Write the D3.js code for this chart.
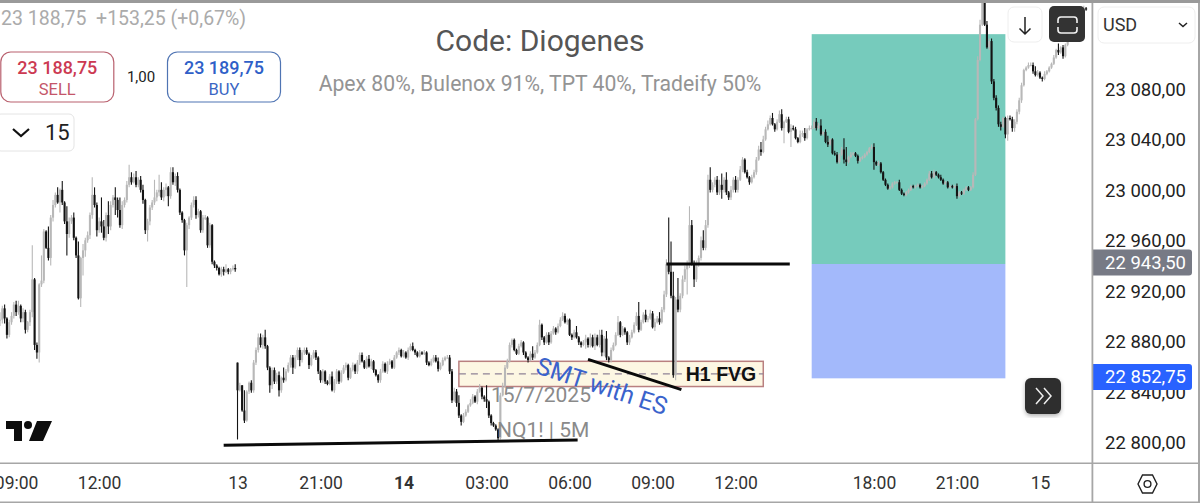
<!DOCTYPE html>
<html>
<head>
<meta charset="utf-8">
<title>Code: Diogenes</title>
<script src="https://cdn.jsdelivr.net/npm/d3@7"></script>
<style>
  html, body { margin: 0; background: #fff; }
  svg { display: block; }
  text { font-family: Roboto, "Noto Sans", sans-serif; }
</style>
</head>
<body>
<div id="chart"></div>
<script>
// all candle values are points above this price
const basePrice = 22800;

// one close per 5 min bar; a bar opens on the previous close
const closes = [
  97,106,98,85,95,100,109,103,108,98,
  103,89,95,103,129,77,71,125,128,167,
  154,146,178,188,196,190,200,190,175,165,
  175,178,162,148,114,146,152,160,164,180,
  196,188,168,175,171,162,180,171,188,194,
  192,184,172,188,192,204,210,206,210,204,
  208,200,192,168,175,186,190,194,198,200,
  194,200,202,195,214,206,211,200,182,176,
  152,172,178,188,192,180,183,168,178,178,
  156,172,143,140,138,133,137,135,137,135,
  137,138,137,41,45,25,17,40,47,41,
  63,73,83,77,83,76,59,45,57,48,
  53,41,51,49,56,61,67,59,67,73,
  65,71,73,70,61,67,71,67,56,49,
  56,48,46,52,41,48,56,48,55,59,
  61,51,57,61,56,63,69,64,59,66,
  60,64,57,53,49,56,62,56,62,64,
  59,67,71,73,68,71,67,73,76,73,
  71,68,71,70,71,63,61,64,67,64,
  58,61,65,67,67,56,33,40,31,21,
  16,21,24,29,31,36,32,40,43,36,
  34,32,21,15,13,10,3,37,44,59,
  64,77,81,73,70,76,79,71,67,65,
  70,67,71,77,93,83,79,85,79,86,
  90,87,92,97,100,95,97,85,83,87,
  83,79,77,79,82,77,83,76,83,77,
  85,71,82,67,65,73,77,85,95,85,
  90,87,79,83,87,93,100,89,95,101,
  97,98,102,91,95,98,95,105,117,141,
  135,116,53,113,105,116,129,137,141,172,
  142,129,141,146,160,154,172,208,200,204,
  208,198,204,200,208,198,194,200,208,200,
  208,216,224,214,210,206,210,214,224,232,
  230,240,248,252,257,252,248,254,260,249,
  254,256,246,249,248,241,238,244,245,241,
  248,249,249,254,249,251,244,246,238,236,
  240,229,228,222,228,232,224,222,226,228,
  229,227,223,225,226,228,230,233,234,222,
  220,221,214,208,204,201,202,205,206,206,
  200,197,196,198,200,203,202,203,204,202,
  203,205,208,213,210,214,212,210,208,205,
  206,202,203,202,203,195,198,197,200,202,
  200,202,212,256,303,331,356,331,313,318,
  286,273,265,252,250,257,244,257,256,249,
  254,262,271,283,295,297,299,299,294,291,
  293,289,288,292,294,297,300,305,311,309,
  313,306,315,322,325,327,329,335,337,339,
  344,343
];

// wick above the body
const upperWicks = [
  6,2,3,1,2,3,2,3,4,1,
  3,2,1,2,27,1,2,1,20,2,
  1,17,2,4,2,6,1,7,1,12,
  3,2,4,1,11,1,5,2,3,2,
  14,6,2,3,19,5,2,11,3,2,
  8,2,10,3,2,3,10,4,3,5,
  2,3,4,1,2,2,2,14,2,12,
  6,2,3,1,4,4,2,3,1,1,
  1,2,1,2,3,3,2,1,2,2,
  1,2,1,1,1,1,2,2,4,1,
  1,2,3,0,2,0,16,1,1,2,
  2,2,3,3,2,6,1,1,2,2,
  2,3,1,8,2,2,2,2,2,2,
  2,2,2,2,1,2,2,2,1,1,
  2,1,1,2,4,2,2,1,2,2,
  2,1,2,2,1,2,2,2,1,2,
  3,2,1,1,1,2,2,1,2,2,
  1,2,1,2,1,2,1,2,2,3,
  1,1,2,1,2,1,1,2,2,2,
  3,2,2,1,2,2,2,3,2,6,
  1,2,2,1,3,2,1,2,3,1,
  1,11,1,1,1,1,1,2,3,2,
  2,2,1,1,1,2,2,1,1,1,
  2,6,2,2,4,1,1,2,2,2,
  2,1,2,2,3,2,1,1,1,2,
  5,1,1,2,3,1,3,2,3,2,
  4,4,2,6,1,2,2,2,5,1,
  2,1,1,2,2,2,3,11,2,2,
  4,2,3,2,3,2,5,2,3,4,
  37,24,19,2,17,2,3,3,3,15,
  4,2,3,2,3,8,4,4,10,2,
  2,3,4,9,2,6,1,3,2,3,
  2,3,2,1,2,1,2,2,2,3,
  6,3,2,3,2,4,1,2,3,4,
  1,2,2,3,2,2,1,3,2,4,
  1,2,2,2,3,2,5,1,2,5,
  1,1,2,2,1,2,9,10,1,2,
  1,1,1,1,1,1,1,1,2,3,
  1,2,1,1,1,1,1,1,1,1,
  2,1,1,1,1,1,1,1,1,1,
  1,1,1,2,2,2,1,1,2,1,
  1,1,1,1,1,2,1,1,1,1,
  1,1,2,1,3,4,10,5,3,2,
  2,2,2,2,2,1,1,2,2,2,
  2,2,2,2,1,1,2,2,2,4,
  2,1,1,2,1,1,1,2,1,5,
  1,2,1,1,1,1,2,1,1,1,
  2,1
];

// wick below the body
const lowerWicks = [
  5,3,4,3,2,2,2,3,2,3,
  3,3,2,3,4,4,5,8,2,2,
  1,2,6,3,2,1,8,2,2,17,
  3,2,2,2,1,7,14,5,2,3,
  3,2,5,2,5,2,3,6,3,2,
  12,6,2,3,2,2,2,2,1,2,
  2,2,3,3,9,3,2,2,3,3,
  2,3,5,8,2,2,3,2,2,2,
  4,29,3,2,2,3,2,2,2,2,
  2,2,2,2,2,1,2,3,1,2,
  2,1,2,39,1,1,2,1,2,2,
  2,2,2,2,3,2,2,6,3,2,
  2,5,2,2,1,1,2,5,1,2,
  5,2,2,1,3,1,1,2,2,2,
  2,2,1,1,1,2,2,2,1,1,
  2,2,1,1,2,2,2,1,1,1,
  1,2,2,1,2,2,1,1,2,1,
  1,1,1,2,1,1,1,2,1,1,
  2,1,1,1,1,2,1,1,1,1,
  2,1,1,1,1,2,2,1,3,2,
  3,1,1,1,1,1,1,2,1,2,
  2,5,2,2,1,1,2,1,1,1,
  1,1,2,1,1,1,1,2,1,2,
  1,2,1,1,1,2,2,1,2,1,
  1,2,1,1,1,1,2,1,2,1,
  1,2,2,1,5,2,2,1,3,1,
  2,3,3,2,2,2,1,1,1,2,
  1,2,2,2,1,1,1,2,1,1,
  2,2,1,1,3,1,2,1,2,2,
  2,2,2,4,2,2,2,2,20,3,
  2,6,2,2,2,2,2,2,2,2,
  2,2,2,7,2,2,2,2,2,2,
  2,1,2,1,1,2,1,1,2,1,
  3,1,1,1,1,1,2,1,1,2,
  12,1,1,12,1,1,1,1,2,2,
  1,1,1,1,2,1,1,1,1,2,
  1,1,1,1,1,1,3,3,1,1,
  1,1,2,1,1,1,1,1,1,6,
  1,1,1,1,1,1,1,1,1,1,
  1,1,1,1,1,1,1,1,1,1,
  1,1,1,1,1,1,1,1,1,1,
  1,1,1,1,1,2,1,1,1,1,
  1,1,1,1,1,1,1,1,1,2,
  2,2,2,2,3,1,3,5,1,3,
  3,2,2,2,1,1,1,1,2,1,
  1,1,2,1,1,1,1,1,1,2,
  1,2,1,1,1,1,1,1,1,1,
  1,1
];

// the sunday session opens with a gap, not on the last close
const sessionOpenBar = 103;
const sessionOpen = 63;

const timeTickBars = [7, 43, 103, 139, 175, 211, 247, 283, 319, 379, 415, 451];
const timeTickLabels = ["09:00", "12:00", "13", "21:00", "14", "03:00", "06:00", "09:00", "12:00", "18:00", "21:00", "15"];
const boldTimeLabels = ["14"];
const priceTicks = [23080, 23040, 23000, 22960, 22920, 22880, 22840, 22800];

// drawings on the chart, in bars and prices
const targetZone = [352, 436, 23123.5, 22941.2];
const stopZone = [352, 436, 22941.2, 22850.5];
const fvgBox = [199, 331, 22864, 22844];
const trendLines = [
  [97, 22797.5, 250.5, 22801.5, 3],
  [289, 22941.2, 342.5, 22941.2, 3],
  [255, 22865.5, 295.5, 22841.5, 3]
];
const priceTags = [
  {price: 22943.5, fill: "#777a85"},
  {price: 22852.75, fill: "#2962ff"}
];

const width = 1200;
const height = 503;
const plotRight = 1092;
const plotBottom = 463;

const svg = d3.select("#chart").append("svg")
  .attr("width", width)
  .attr("height", height);

svg.append("rect").attr("width", width).attr("height", height).attr("fill", "#fff");

svg.append("defs").append("clipPath").attr("id", "plot")
  .append("rect").attr("x", 0).attr("y", 3).attr("width", plotRight).attr("height", plotBottom - 3);

const x = d3.scaleLinear().domain([0, 472]).range([0, 1088.4]);
const y = d3.scaleLinear().domain([22800, 23080]).range([442, 89]);

const nf = d3.formatLocale({decimal: ",", thousands: " ", grouping: [3], currency: ["", ""]}).format(",.2f");

const plot = svg.append("g").attr("clip-path", "url(#plot)");

// risk/reward zones
plot.append("rect")
  .attr("x", x(targetZone[0])).attr("width", x(targetZone[1]) - x(targetZone[0]))
  .attr("y", y(targetZone[2])).attr("height", y(targetZone[3]) - y(targetZone[2]))
  .attr("fill", "#76cbbc");
plot.append("rect")
  .attr("x", x(stopZone[0])).attr("width", x(stopZone[1]) - x(stopZone[0]))
  .attr("y", y(stopZone[2])).attr("height", y(stopZone[3]) - y(stopZone[2]))
  .attr("fill", "#a3b9fb");

// H1 FVG box
const fvgX = x(fvgBox[0]);
const fvgW = x(fvgBox[1]) - fvgX;
plot.append("rect")
  .attr("x", fvgX).attr("width", fvgW)
  .attr("y", y(fvgBox[2])).attr("height", y(fvgBox[3]) - y(fvgBox[2]))
  .attr("fill", "#fdf7e3").attr("stroke", "#b98080").attr("stroke-width", 1.5);
plot.append("line")
  .attr("x1", fvgX).attr("x2", fvgX + fvgW)
  .attr("y1", y((fvgBox[2] + fvgBox[3]) / 2)).attr("y2", y((fvgBox[2] + fvgBox[3]) / 2))
  .attr("stroke", "#8f8296").attr("stroke-width", 1.2).attr("stroke-dasharray", "7 5");

// candles
const candles = closes.map((c, i) => {
  const open = i === sessionOpenBar ? sessionOpen : (i === 0 ? c : closes[i - 1]);
  return {
    i,
    open: basePrice + open,
    close: basePrice + c,
    high: basePrice + Math.max(open, c) + upperWicks[i],
    low: basePrice + Math.min(open, c) - lowerWicks[i]
  };
});
const candleColor = d => d.close >= d.open ? "#b8b8b8" : "#141414";

const bars = plot.append("g").selectAll("g").data(candles).join("g");
bars.append("line")
  .attr("x1", d => x(d.i)).attr("x2", d => x(d.i))
  .attr("y1", d => y(d.high)).attr("y2", d => y(d.low))
  .attr("stroke", candleColor).attr("stroke-width", 1.1);
bars.append("rect")
  .attr("x", d => x(d.i) - 1.05).attr("width", 2.1)
  .attr("y", d => y(Math.max(d.open, d.close)))
  .attr("height", d => Math.max(1, Math.abs(y(d.open) - y(d.close))))
  .attr("fill", candleColor);

// hand drawn lines
plot.selectAll("line.trend").data(trendLines).join("line")
  .attr("class", "trend")
  .attr("x1", d => x(d[0])).attr("y1", d => y(d[1]))
  .attr("x2", d => x(d[2])).attr("y2", d => y(d[3]))
  .attr("stroke", "#0a0a0a").attr("stroke-width", d => d[4]);

// chart notes
svg.append("text").attr("x", 721).attr("y", 381).attr("text-anchor", "middle")
  .attr("font-size", 19.5).attr("font-weight", 700).attr("fill", "#111")
  .style("font-family", "'Liberation Sans', sans-serif").text("H1 FVG");
svg.append("text").attr("transform", "translate(602,386) rotate(18)").attr("text-anchor", "middle")
  .attr("dy", "0.35em").attr("font-size", 24.5).attr("fill", "#3a63cc").text("SMT with ES");
svg.append("text").attr("x", 491).attr("y", 402).attr("font-size", 21).attr("fill", "#8a8a8a").text("15/7/2025");
svg.append("text").attr("x", 497).attr("y", 437).attr("font-size", 21).attr("fill", "#8a8a8a").text("NQ1! | 5M");
svg.append("text").attr("x", 540).attr("y", 51).attr("text-anchor", "middle")
  .attr("font-size", 30).attr("fill", "#555").text("Code: Diogenes");
svg.append("text").attr("x", 540).attr("y", 91).attr("text-anchor", "middle")
  .attr("font-size", 21.2).attr("fill", "#949494").text("Apex 80%, Bulenox 91%, TPT 40%, Tradeify 50%");

// watermark logo
svg.append("path").attr("fill", "#0d0d0d")
  .attr("d", "M6 421h16v20h-8v-12H6z M37 421h15l-9 20H29z");
svg.append("circle").attr("cx", 28).attr("cy", 425).attr("r", 4).attr("fill", "#0d0d0d");

// header row
svg.append("text").attr("x", 1).attr("y", 25).attr("font-size", 19.5).attr("fill", "#ababab")
  .text("23 188,75  +153,25 (+0,67%)").attr("xml:space", "preserve").style("white-space", "pre");

const orderButton = (bx, stroke, main, sub, subColor, label) => {
  svg.append("rect").attr("x", bx).attr("y", 52).attr("width", 113).attr("height", 50).attr("rx", 10)
    .attr("fill", "#fff").attr("stroke", stroke).attr("stroke-width", 1.2);
  svg.append("text").attr("x", bx + 56.5).attr("y", 74).attr("text-anchor", "middle")
    .attr("font-size", 18).attr("font-weight", 500).attr("fill", main).text(sub);
  svg.append("text").attr("x", bx + 56.5).attr("y", 95).attr("text-anchor", "middle")
    .attr("font-size", 16.5).attr("fill", subColor).text(label);
};
orderButton(0.8, "#b9606e", "#cc3a52", "23 188,75", "#c4566a", "SELL");
orderButton(167.5, "#4f74b3", "#2f5fc8", "23 189,75", "#3a66c4", "BUY");
svg.append("text").attr("x", 141).attr("y", 82).attr("text-anchor", "middle")
  .attr("font-size", 15).attr("fill", "#222").text("1,00");

svg.append("rect").attr("x", -4).attr("y", 114).attr("width", 78).attr("height", 37).attr("rx", 5)
  .attr("fill", "#fff").attr("stroke", "#e4e4e4");
svg.append("path").attr("d", "M13 129l8 7l8 -7").attr("fill", "none").attr("stroke", "#111").attr("stroke-width", 2.2);
svg.append("text").attr("x", 45).attr("y", 140).attr("font-size", 22).attr("fill", "#222").text("15");

// chart buttons
svg.append("rect").attr("x", 1008).attr("y", 7).attr("width", 34).attr("height", 35).attr("rx", 6)
  .attr("fill", "#fff").attr("stroke", "#eee");
svg.append("path").attr("d", "M1025 17v17M1019.5 28.5l5.5 5.5l5.5 -5.5").attr("fill", "none").attr("stroke", "#222").attr("stroke-width", 1.5);
svg.append("rect").attr("x", 1049).attr("y", 6).attr("width", 36).attr("height", 36).attr("rx", 5).attr("fill", "#333");
svg.append("path")
  .attr("d", "M1058 23v-3a3 3 0 0 1 3 -3h13a3 3 0 0 1 3 3v3 M1058 27v3a3 3 0 0 0 3 3h13a3 3 0 0 0 3 -3v-3")
  .attr("fill", "none").attr("stroke", "#f2f2f2").attr("stroke-width", 1.6);

svg.append("defs").append("filter").attr("id", "soft")
  .append("feDropShadow").attr("dx", 0).attr("dy", 2).attr("stdDeviation", 2).attr("flood-opacity", 0.3);
svg.append("rect").attr("x", 1025).attr("y", 378).attr("width", 36).attr("height", 36).attr("rx", 6)
  .attr("fill", "#2e2e2e").attr("filter", "url(#soft)");
svg.append("path").attr("d", "M1036 388l7 8l-7 8 M1044 388l7 8l-7 8").attr("fill", "none").attr("stroke", "#eee").attr("stroke-width", 1.5);

// axes
const priceAxis = d3.axisRight(y).tickValues(priceTicks).tickSize(0).tickFormat(nf);
const gPrice = svg.append("g").attr("transform", `translate(${plotRight},0)`).call(priceAxis);
gPrice.select(".domain").remove();
gPrice.selectAll("text").attr("x", 13).attr("dy", "0.35em")
  .attr("font-size", 18.5).attr("fill", "#222").style("font-family", "Roboto, sans-serif");

const timeAxis = d3.axisBottom(x).tickValues(timeTickBars).tickSize(0)
  .tickFormat((d, i) => timeTickLabels[i]);
const gTime = svg.append("g").attr("transform", `translate(0,${plotBottom})`).call(timeAxis);
gTime.select(".domain").remove();
gTime.selectAll("text").attr("y", 20).attr("dy", "0.35em")
  .attr("font-size", 17.5).attr("fill", "#333").style("font-family", "Roboto, sans-serif")
  .attr("font-weight", d => boldTimeLabels.includes(timeTickLabels[timeTickBars.indexOf(d)]) ? 700 : 400);

// price tags over the axis
priceTags.forEach(t => {
  const ty = y(t.price) + 1.5;
  svg.append("path").attr("fill", t.fill)
    .attr("d", `M${plotRight} ${ty - 13}h97a3 3 0 0 1 3 3v20a3 3 0 0 1 -3 3h-97z`);
  svg.append("text").attr("x", plotRight + 13).attr("y", ty).attr("dy", "0.35em")
    .attr("font-size", 18.5).attr("fill", "#fff").text(nf(t.price));
});

// frame
const frame = "#a6a6a6";
svg.append("rect").attr("x", 0).attr("y", 0).attr("width", width).attr("height", 3).attr("fill", "#9a9a9a");
svg.append("rect").attr("x", 0).attr("y", plotBottom - 0.5).attr("width", 1199).attr("height", 1.5).attr("fill", frame);
svg.append("rect").attr("x", 0).attr("y", 501.5).attr("width", 1199).attr("height", 1.5).attr("fill", frame);
svg.append("rect").attr("x", plotRight - 0.5).attr("y", 3).attr("width", 1.8).attr("height", 500).attr("fill", frame);
svg.append("rect").attr("x", 1198).attr("y", 3).attr("width", 2).attr("height", 500).attr("fill", frame);

// currency box
svg.append("rect").attr("x", 1098).attr("y", 7).attr("width", 97).attr("height", 36).attr("rx", 6)
  .attr("fill", "#fff").attr("stroke", "#eee");
svg.append("text").attr("x", 1103).attr("y", 31).attr("font-size", 18).attr("fill", "#333").text("USD");
svg.append("path").attr("d", "M1179 23l4 3.5l4 -3.5").attr("fill", "none").attr("stroke", "#222").attr("stroke-width", 1.5);

// settings hexagon
svg.append("path").attr("d", "M1138 484l4.5 -9h10l4.5 9l-4.5 9h-10z").attr("fill", "none").attr("stroke", "#222").attr("stroke-width", 1.4);
svg.append("circle").attr("cx", 1147.5).attr("cy", 484).attr("r", 3.4).attr("fill", "none").attr("stroke", "#222").attr("stroke-width", 1.4);
</script>
</body>
</html>
